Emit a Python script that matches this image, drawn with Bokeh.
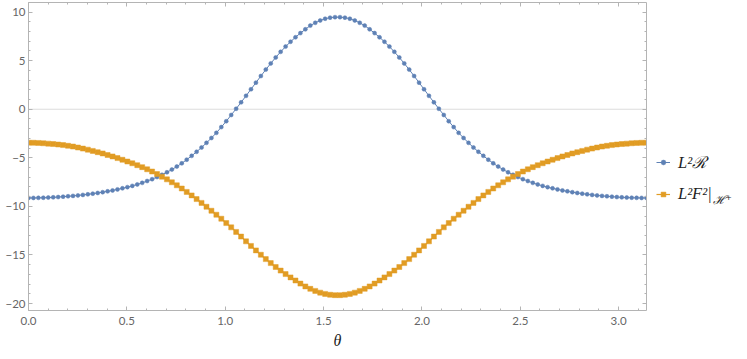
import numpy as np
from bokeh.plotting import figure
from bokeh.layouts import row
from bokeh.models import (Range1d, SingleIntervalTicker, LinearAxis, Span, Legend,
                          LegendItem, Label, PrintfTickFormatter, CustomJSTickFormatter)
from bokeh.embed import file_html
from bokeh.resources import INLINE

# sample grid in theta (0 .. pi)
theta = np.linspace(0, np.pi, 126)

# L^2 R  (blue)
ricci = [-9.13, -9.13, -9.12, -9.11, -9.09, -9.07, -9.04, -9.00, -8.96, -8.92,
         -8.87, -8.82, -8.76, -8.69, -8.62, -8.54, -8.45, -8.36, -8.25, -8.14,
         -8.02, -7.89, -7.74, -7.58, -7.39, -7.20, -6.98, -6.75, -6.49, -6.21,
         -5.90, -5.57, -5.19, -4.80, -4.38, -3.94, -3.46, -2.96, -2.43, -1.84,
         -1.23, -0.59, 0.05, 0.71, 1.38, 2.06, 2.74, 3.42, 4.08, 4.72,
         5.33, 5.91, 6.45, 6.95, 7.41, 7.84, 8.23, 8.61, 8.90, 9.14,
         9.32, 9.43, 9.48,
         9.48, 9.43, 9.32, 9.14, 8.90, 8.61, 8.23, 7.84, 7.41, 6.95,
         6.45, 5.91, 5.33, 4.72, 4.08, 3.42, 2.74, 2.06, 1.38, 0.71,
         0.05, -0.59, -1.23, -1.84, -2.43, -2.96, -3.46, -3.94, -4.38, -4.80,
         -5.19, -5.57, -5.90, -6.21, -6.49, -6.75, -6.98, -7.20, -7.39, -7.58,
         -7.74, -7.89, -8.02, -8.14, -8.25, -8.36, -8.45, -8.54, -8.62, -8.69,
         -8.76, -8.82, -8.87, -8.92, -8.96, -9.00, -9.04, -9.07, -9.09, -9.11,
         -9.12, -9.13, -9.13]

# L^2 F^2 on the horizon (orange)
fsq = [-3.44, -3.45, -3.47, -3.50, -3.54, -3.58, -3.63, -3.69, -3.76, -3.84,
       -3.94, -4.05, -4.16, -4.29, -4.42, -4.55, -4.71, -4.86, -5.03, -5.20,
       -5.38, -5.56, -5.76, -5.96, -6.18, -6.41, -6.67, -6.94, -7.22, -7.52,
       -7.83, -8.16, -8.51, -8.87, -9.25, -9.64, -10.04, -10.45, -10.86, -11.27,
       -11.72, -12.16, -12.63, -13.11, -13.60, -14.07, -14.53, -14.98, -15.43, -15.84,
       -16.24, -16.61, -16.97, -17.31, -17.63, -17.95, -18.24, -18.49, -18.70, -18.88,
       -19.01, -19.10, -19.14,
       -19.14, -19.10, -19.01, -18.88, -18.70, -18.49, -18.24, -17.95, -17.63, -17.31,
       -16.97, -16.61, -16.24, -15.84, -15.43, -14.98, -14.53, -14.07, -13.60, -13.11,
       -12.63, -12.16, -11.72, -11.27, -10.86, -10.45, -10.04, -9.64, -9.25, -8.87,
       -8.51, -8.16, -7.83, -7.52, -7.22, -6.94, -6.67, -6.41, -6.18, -5.96,
       -5.76, -5.56, -5.38, -5.20, -5.03, -4.86, -4.71, -4.55, -4.42, -4.29,
       -4.16, -4.05, -3.94, -3.84, -3.76, -3.69, -3.63, -3.58, -3.54, -3.50,
       -3.47, -3.45, -3.44]

y_label_overrides = {-20: "\u221220", -15: "\u221215", -10: "\u221210", -5: "\u22125",
                     0: "0", 5: "5", 10: "10"}
legend_labels = ["L\u00b2\u211b", "L\u00b2F\u00b2|"]
legend_sub = "\u210b\u207a"

BLUE = "#5E81B5"
ORANGE = "#E19C24"
AXIS = "#b4b4b4"
TXT = "#666666"

H = 351
W1 = 650
W2 = 89
BL, BR, BT, BB = 28, 4, 2, 39
Y0, Y1 = -20.72, 10.99
FH = H - BT - BB

p = figure(width=W1, height=H, x_range=Range1d(0, np.pi), y_range=Range1d(Y0, Y1),
           output_backend="svg", toolbar_location=None,
           min_border_left=BL, min_border_right=BR, min_border_top=BT, min_border_bottom=BB)
p.xgrid.visible = False
p.ygrid.visible = False
p.outline_line_color = None
p.background_fill_color = "white"

def style(ax, show_labels=True):
    ax.axis_line_color = AXIS
    ax.major_tick_line_color = AXIS
    ax.minor_tick_line_color = AXIS
    ax.major_tick_in = 4
    ax.major_tick_out = 0
    ax.minor_tick_in = 2
    ax.minor_tick_out = 0
    if show_labels:
        ax.major_label_text_font = "Lato"
        ax.major_label_text_font_size = "11.5px"
        ax.major_label_text_color = TXT
    else:
        ax.formatter = CustomJSTickFormatter(code="return ''")
        ax.major_label_standoff = 0

xb = p.xaxis[0]
yl = p.yaxis[0]
xb.ticker = SingleIntervalTicker(interval=0.5, num_minor_ticks=5)
yl.ticker = SingleIntervalTicker(interval=5, num_minor_ticks=5)
xb.formatter = PrintfTickFormatter(format="%.1f")
yl.major_label_overrides = y_label_overrides
style(xb)
style(yl)
xb.major_label_standoff = 6
yl.major_label_standoff = 3
xb.axis_label = "\u03b8"
xb.axis_label_text_font = "Liberation Serif"
xb.axis_label_text_font_style = "italic"
xb.axis_label_text_font_size = "16px"
xb.axis_label_text_color = "#222222"
xb.axis_label_standoff = 4

xt = LinearAxis(ticker=SingleIntervalTicker(interval=0.5, num_minor_ticks=5))
yr = LinearAxis(ticker=SingleIntervalTicker(interval=5, num_minor_ticks=5))
style(xt, False)
style(yr, False)
p.add_layout(xt, "above")
p.add_layout(yr, "right")

p.add_layout(Span(location=0, dimension="width", line_color="#dcdcdc", line_width=1, level="underlay"))

p.line(theta, ricci, line_color=BLUE, line_width=1)
p.scatter(theta, ricci, marker="circle", size=4, fill_color=BLUE, line_color=BLUE, line_width=0.5)
p.line(theta, fsq, line_color=ORANGE, line_width=1.2)
p.scatter(theta, fsq, marker="square", size=5, fill_color=ORANGE, line_color=ORANGE,
          line_width=0.8, line_alpha=0.6)

# legend panel: a second figure with the same vertical frame; its x range (in pixels)
# lies away from the data so the proxy renderers stay invisible
p2 = figure(width=W2, height=H, x_range=Range1d(100, 100 + W2), y_range=Range1d(Y0, Y1),
            output_backend="svg", toolbar_location=None,
            x_axis_location=None, y_axis_location=None,
            min_border_left=0, min_border_right=0, min_border_top=BT, min_border_bottom=BB)
p2.grid.visible = False
p2.outline_line_color = None

lb = p2.line(theta, ricci, line_color=BLUE, line_width=1)
sb = p2.scatter(theta, ricci, marker="circle", size=4, fill_color=BLUE, line_color=BLUE, line_width=0.5)
lo = p2.line(theta, fsq, line_color=ORANGE, line_width=1.2)
so = p2.scatter(theta, fsq, marker="square", size=5, fill_color=ORANGE, line_color=ORANGE, line_width=0.5)

legend = Legend(items=[LegendItem(label=legend_labels[0], renderers=[lb, sb]),
                       LegendItem(label=legend_labels[1], renderers=[lo, so])],
                location=(6, 106), orientation="vertical", glyph_width=14, glyph_height=12,
                label_height=20, label_standoff=8, padding=0, margin=0, spacing=11,
                border_line_color=None, background_fill_alpha=0,
                label_text_font="Liberation Serif", label_text_font_style="italic",
                label_text_font_size="16.5px", label_text_color="#222222")
p2.add_layout(legend)

sub_y = Y1 - (201 - BT) * (Y1 - Y0) / FH
p2.add_layout(Label(x=162, y=sub_y, text=legend_sub, text_font="DejaVu Serif",
                    text_font_style="italic", text_font_size="12px", text_color="#222222",
                    text_baseline="middle"))

open("out.html", "w").write(file_html(row(p, p2), INLINE))
